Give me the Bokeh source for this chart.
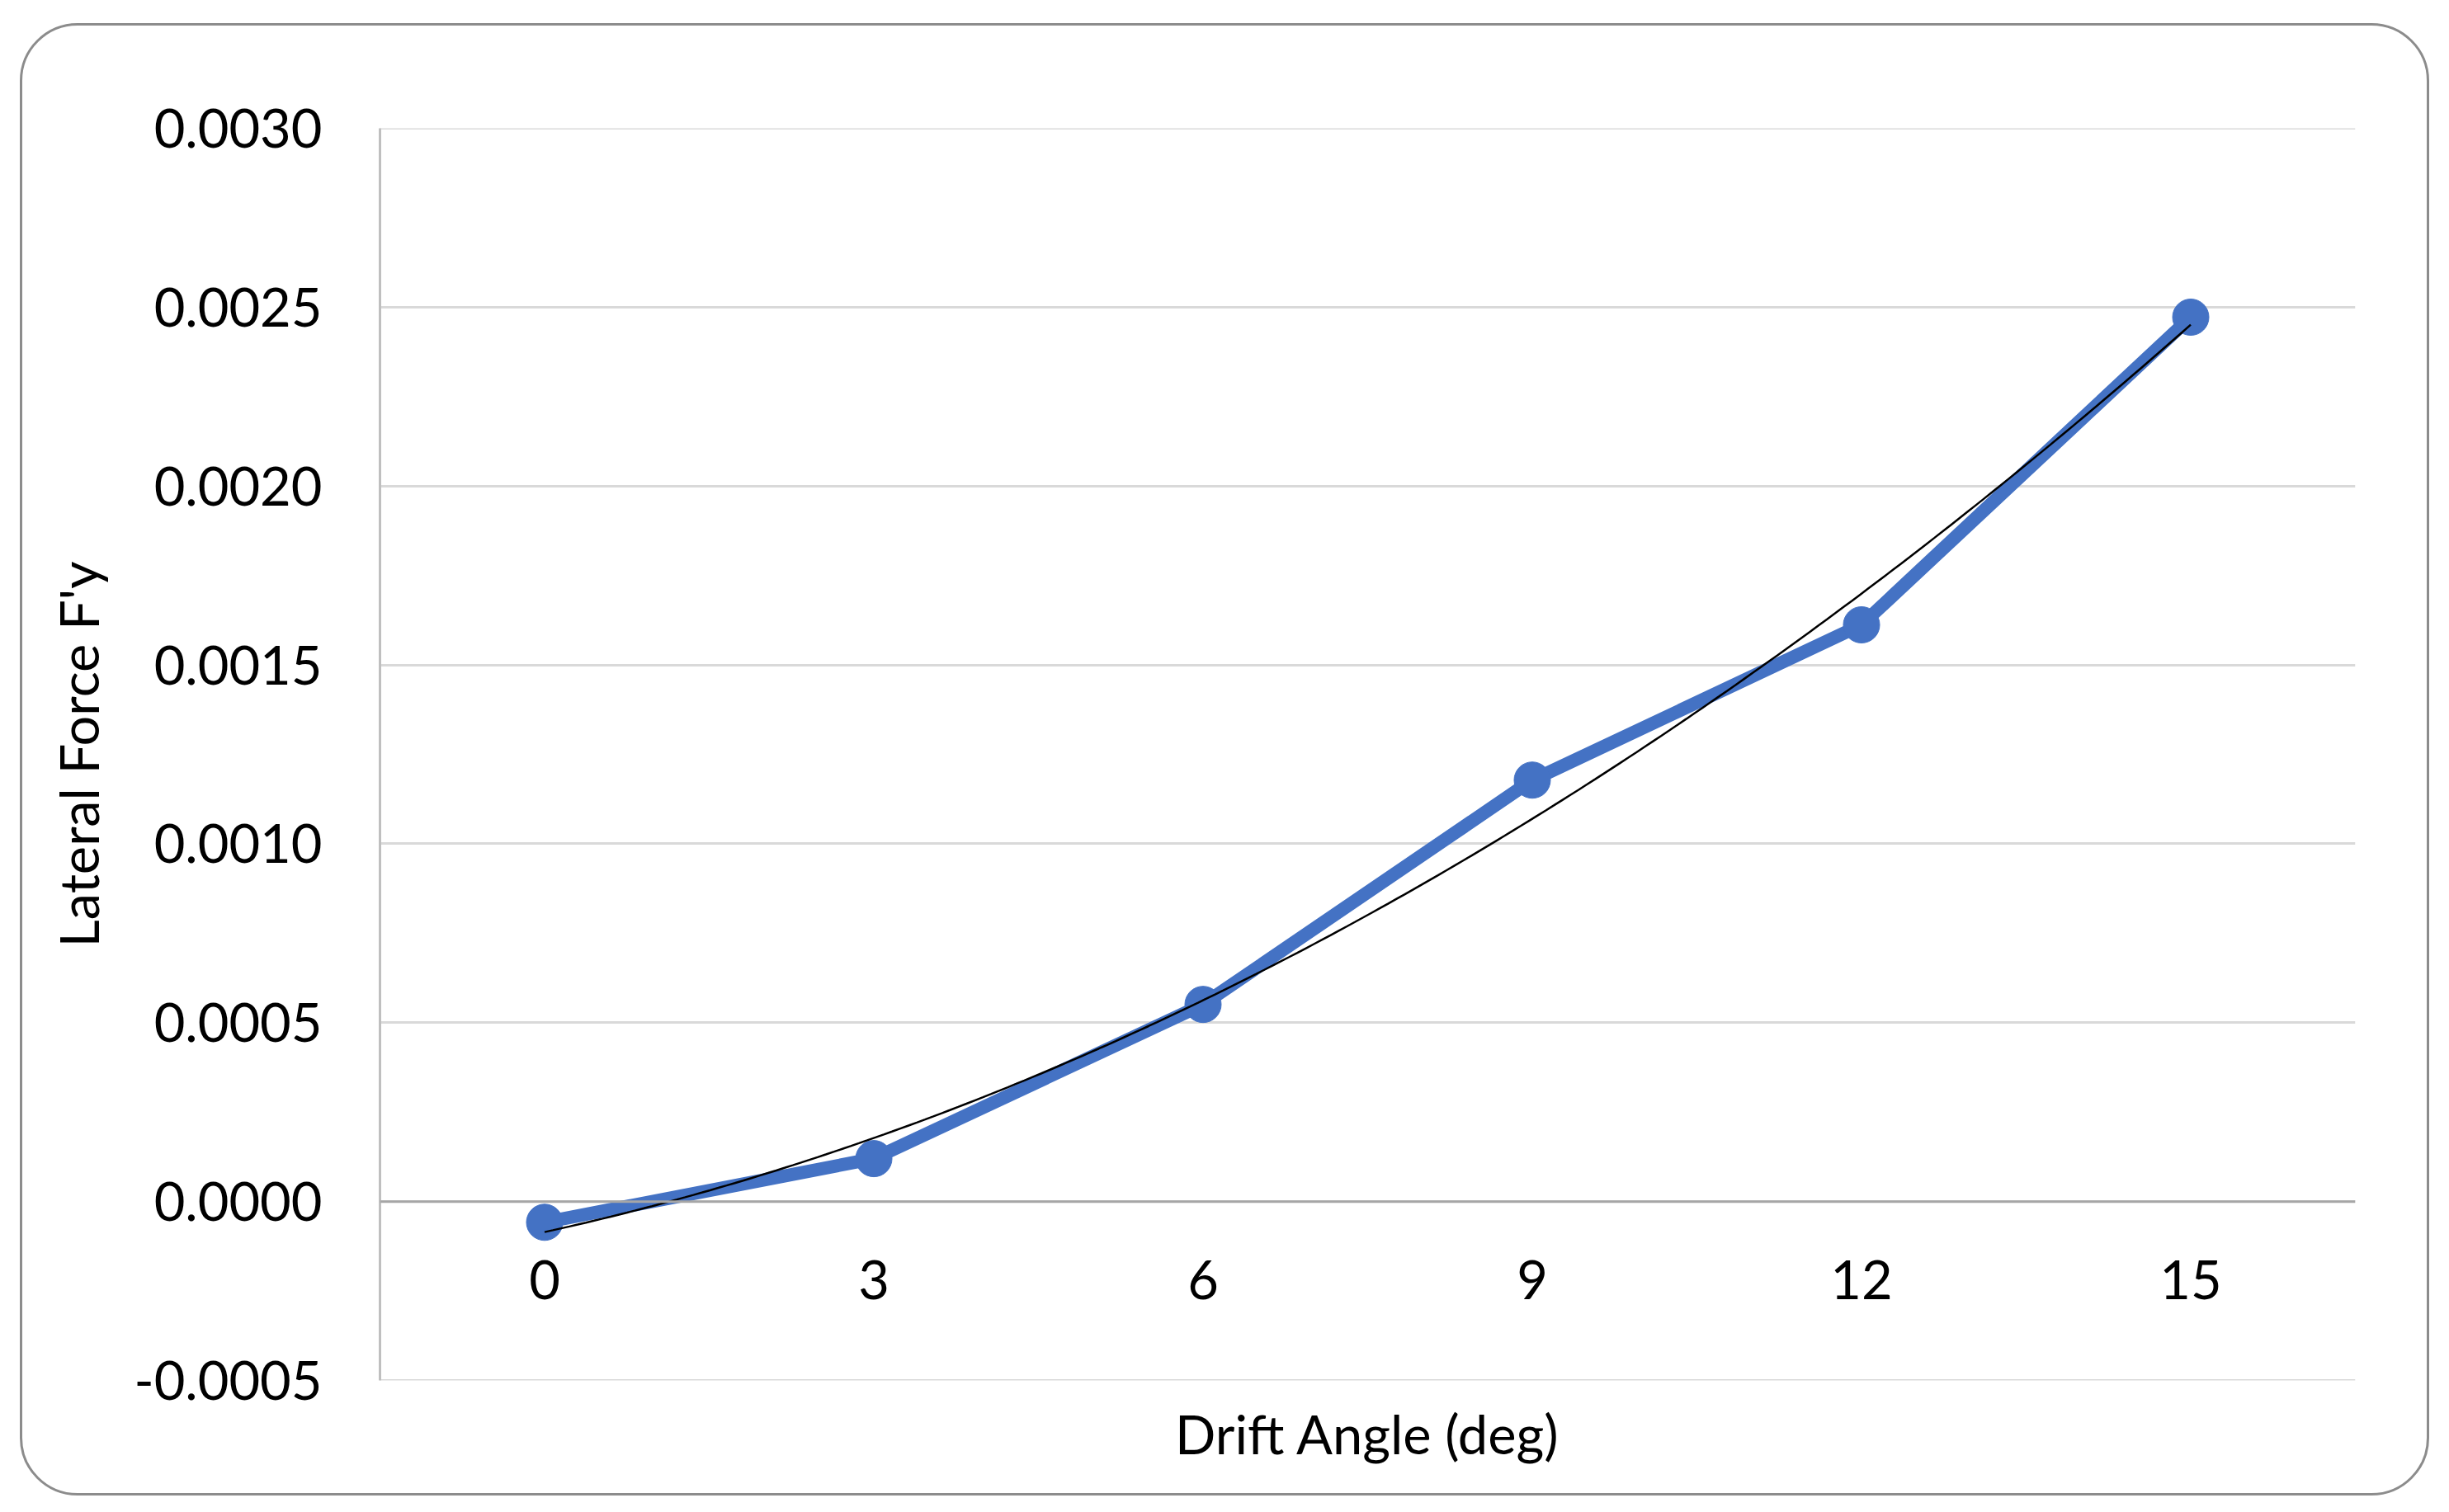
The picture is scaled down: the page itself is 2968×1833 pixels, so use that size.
import numpy as np
from bokeh.plotting import figure
from bokeh.models import Range1d, NumeralTickFormatter, FixedTicker, Span, ColumnDataSource
from bokeh.core.properties import value
from bokeh.embed import file_html
from bokeh.resources import INLINE

# ---- data ----
drift_angle = [0, 3, 6, 9, 12, 15]
angle_labels = ["0", "3", "6", "9", "12", "15"]
lateral_force = [-0.000058, 0.000120, 0.000551, 0.001178, 0.001612, 0.002472]
y_ticks = [-0.0005, 0.0, 0.0005, 0.0010, 0.0015, 0.0020, 0.0025, 0.0030]

FONT = "Lato"
FS = "65px"

W, H = 2920, 1785
p = figure(width=W, height=H, output_backend="svg", toolbar_location=None,
           x_range=Range1d(-1.5, 16.5), y_range=Range1d(-0.00050001, 0.00300001),
           min_border_left=433, min_border_right=93, min_border_top=124, min_border_bottom=143)
p.margin = (28, 0, 0, 24)
p.styles = {"border": "3px solid #8C8C8C", "border-radius": "70px", "box-sizing": "border-box"}
p.outline_line_color = None
p.background_fill_color = "white"
p.border_fill_color = None
p.border_fill_alpha = 0

# y axis
ya = p.yaxis[0]
ya.ticker = FixedTicker(ticks=y_ticks)
ya.formatter = NumeralTickFormatter(format="0.0000")
ya.major_tick_line_color = None
ya.minor_tick_line_color = None
ya.major_tick_out = 0
ya.major_tick_in = 0
ya.axis_line_color = "#BFBFBF"
ya.axis_line_width = 3
ya.major_label_standoff = 70
ya.major_label_text_font = FONT
ya.major_label_text_font_size = FS
ya.major_label_text_color = "black"
ya.axis_label = "Lateral Force F'y"
ya.axis_label_text_font = FONT
ya.axis_label_text_font_size = FS
ya.axis_label_text_font_style = "normal"
ya.axis_label_text_color = "black"
ya.axis_label_standoff = 26

# x axis: only title
xa = p.xaxis[0]
xa.ticker = FixedTicker(ticks=[])
xa.axis_line_color = None
xa.major_tick_line_color = None
xa.minor_tick_line_color = None
xa.major_tick_out = 0
xa.major_tick_in = 0
xa.axis_label = "Drift Angle (deg)"
xa.axis_label_text_font = FONT
xa.axis_label_text_font_size = FS
xa.axis_label_text_font_style = "normal"
xa.axis_label_text_color = "black"
xa.axis_label_standoff = 25

p.xgrid.grid_line_color = None
p.ygrid.ticker = FixedTicker(ticks=y_ticks)
p.ygrid.grid_line_color = "#D9D9D9"
p.ygrid.grid_line_width = 3

# zero axis line
p.add_layout(Span(location=0, dimension="width", line_color="#A6A6A6", line_width=3))

# category labels next to the zero line
src_lab = ColumnDataSource(dict(x=drift_angle, y=[0.0] * len(drift_angle), t=angle_labels))
p.text(x="x", y="y", text="t", source=src_lab, text_font=value(FONT), text_font_size=FS,
       text_align="center", text_baseline="middle", y_offset=95, text_color="black")

# data series
p.line(drift_angle, lateral_force, line_color="#4472C4", line_width=16, line_join="round")
p.scatter(drift_angle, lateral_force, size=44, fill_color="#4472C4", line_color="#4472C4")

# polynomial (order 2) trendline fitted to the data
coef = np.polyfit(drift_angle, lateral_force, 2)
xt = np.linspace(drift_angle[0], drift_angle[-1], 200)
p.line(xt, np.polyval(coef, xt), line_color="black", line_width=2.5)

open("out.html", "w").write(file_html(p, INLINE))
